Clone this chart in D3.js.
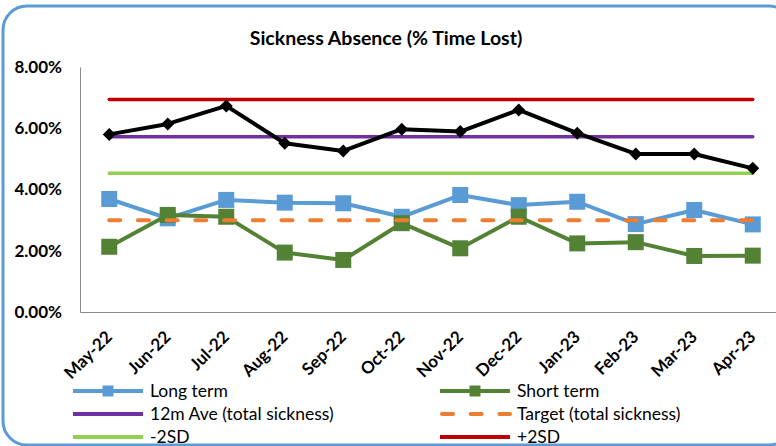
<!DOCTYPE html>
<html>
<head>
<meta charset="utf-8">
<script src="https://cdn.jsdelivr.net/npm/d3@7"></script>
<style>
  html, body { margin: 0; padding: 0; background: #fff; overflow: hidden; }
  svg { display: block; font-family: Lato, "Open Sans", sans-serif; }
</style>
</head>
<body>
<svg id="chart" width="776" height="446"></svg>
<script>
// Months on the category axis
const months = ["May-22","Jun-22","Jul-22","Aug-22","Sep-22","Oct-22","Nov-22","Dec-22","Jan-23","Feb-23","Mar-23","Apr-23"];

// Monthly sickness absence, % time lost
const longTerm  = [3.69, 3.06, 3.66, 3.57, 3.55, 3.11, 3.82, 3.49, 3.60, 2.87, 3.33, 2.86];
const shortTerm = [2.13, 3.17, 3.11, 1.94, 1.70, 2.90, 2.08, 3.11, 2.24, 2.28, 1.83, 1.84];
const total     = [5.80, 6.14, 6.73, 5.51, 5.26, 5.97, 5.89, 6.60, 5.84, 5.16, 5.16, 4.69];

// Reference levels (constant across the year)
const ave12m  = 5.72;
const target  = 3.00;
const minus2SD = 4.53;
const plus2SD  = 6.94;

// Value axis ticks
const yTicks = [0, 2, 4, 6, 8];

const svg = d3.select("#chart");

const x = d3.scaleBand().domain(months).range([80, 782]).padding(0);
const cx = m => x(m) + x.bandwidth() / 2;
const y = d3.scaleLinear().domain([0, 8]).range([312, 67]);

// Outer frame: left, top and bottom edges with rounded corners;
// the right edge lies beyond the canvas
const R = 24, L = 3, T = 6, B = 445, Rt = 793;
svg.append("path")
  .attr("d", `M${Rt},${B - R} A${R},${R} 0 0 1 ${Rt - R},${B} L${L + R},${B} A${R},${R} 0 0 1 ${L},${B - R} L${L},${T + R} A${R},${R} 0 0 1 ${L + R},${T} L${Rt - R},${T} A${R},${R} 0 0 1 ${Rt},${T + R}`)
  .attr("fill", "none").attr("stroke", "#5B9BD5").attr("stroke-width", 3);

// Title
svg.append("text")
  .attr("x", 386).attr("y", 45)
  .attr("text-anchor", "middle")
  .attr("font-weight", "bold").attr("font-size", 19.5)
  .attr("fill", "#000")
  .text("Sickness Absence (% Time Lost)");

// Axes
const yAxis = d3.axisLeft(y).tickValues(yTicks).tickSize(0).tickPadding(18)
  .tickFormat(d => d3.format(".2f")(d) + "%");
const gy = svg.append("g").attr("transform", "translate(80,0)").call(yAxis);
gy.select(".domain").attr("stroke", "#898989").attr("stroke-width", 1);
gy.selectAll("text").attr("font-family", "Lato, sans-serif")
  .attr("font-size", 17).attr("font-weight", "bold").attr("fill", "#000");

const xAxis = d3.axisBottom(x).tickSize(0).tickFormat(d => d);
const gx = svg.append("g").attr("transform", "translate(0,312)").call(xAxis);
gx.select(".domain").attr("stroke", "#898989").attr("stroke-width", 1);
gx.selectAll("text")
  .attr("font-family", "Lato, sans-serif")
  .attr("font-size", 17).attr("font-weight", "bold").attr("fill", "#000")
  .attr("text-anchor", "end")
  .attr("x", 0).attr("y", 0).attr("dy", 0)
  .attr("transform", "translate(4,26) rotate(-45)");

const plot = svg.append("g");
const line = d3.line().x((d, i) => cx(months[i])).y(d => y(d));

function series(values, color, width) {
  plot.append("path").datum(values)
    .attr("d", line).attr("fill", "none")
    .attr("stroke", color).attr("stroke-width", width)
    .attr("stroke-linejoin", "round");
}
function squares(values, color, size) {
  plot.append("g").selectAll("rect").data(values).join("rect")
    .attr("x", (d, i) => cx(months[i]) - size / 2)
    .attr("y", d => y(d) - size / 2)
    .attr("width", size).attr("height", size)
    .attr("fill", color);
}
function level(v, color, width, dash) {
  const p = plot.append("path").datum(months.map(() => v))
    .attr("d", line).attr("fill", "none")
    .attr("stroke", color).attr("stroke-width", width)
    .attr("stroke-linecap", "round");
  if (dash) p.attr("stroke-dasharray", dash);
}

// Long term
series(longTerm, "#5B9BD5", 4);
squares(longTerm, "#5B9BD5", 16);
// Short term
series(shortTerm, "#548235", 4);
squares(shortTerm, "#548235", 16);
// Reference lines
level(ave12m, "#7030A0", 3.5);
level(target, "#ED7D31", 4, "11,17.7");
level(minus2SD, "#92D050", 3.5);
level(plus2SD, "#C00000", 3.5);
// Total sickness
series(total, "#000", 4);
plot.append("g").selectAll("path").data(total).join("path")
  .attr("transform", (d, i) => `translate(${cx(months[i])},${y(d)})`)
  .attr("d", "M0,-6.5L6.5,0L0,6.5L-6.5,0Z")
  .attr("fill", "#000");

// Legend
const legendItems = [
  { name: "Long term", color: "#5B9BD5", marker: true, col: 0, row: 0 },
  { name: "Short term", color: "#548235", marker: true, col: 1, row: 0 },
  { name: "12m Ave (total sickness)", color: "#7030A0", col: 0, row: 1 },
  { name: "Target (total sickness)", color: "#ED7D31", dash: "11,17.7", col: 1, row: 1 },
  { name: "-2SD", color: "#92D050", col: 0, row: 2 },
  { name: "+2SD", color: "#C00000", col: 1, row: 2 }
];
const colX = [73, 440];
const rowY = [391, 414, 437];
const lg = svg.append("g");
legendItems.forEach(it => {
  const x0 = colX[it.col], yy = rowY[it.row];
  const g = lg.append("g");
  const l = g.append("line")
    .attr("x1", x0 + (it.dash ? 2 : 0)).attr("x2", x0 + 70)
    .attr("y1", yy).attr("y2", yy)
    .attr("stroke", it.color).attr("stroke-width", 4)
    .attr("stroke-linecap", it.dash ? "round" : "butt");
  if (it.dash) l.attr("stroke-dasharray", it.dash);
  if (it.marker) {
    g.append("rect").attr("x", x0 + 35 - 5.5).attr("y", yy - 5.5)
      .attr("width", 11).attr("height", 11).attr("fill", it.color);
  }
  g.append("text").attr("x", x0 + 77).attr("y", yy + 6)
    .attr("font-size", 17.5).attr("fill", "#000").text(it.name);
});
</script>
</body>
</html>
